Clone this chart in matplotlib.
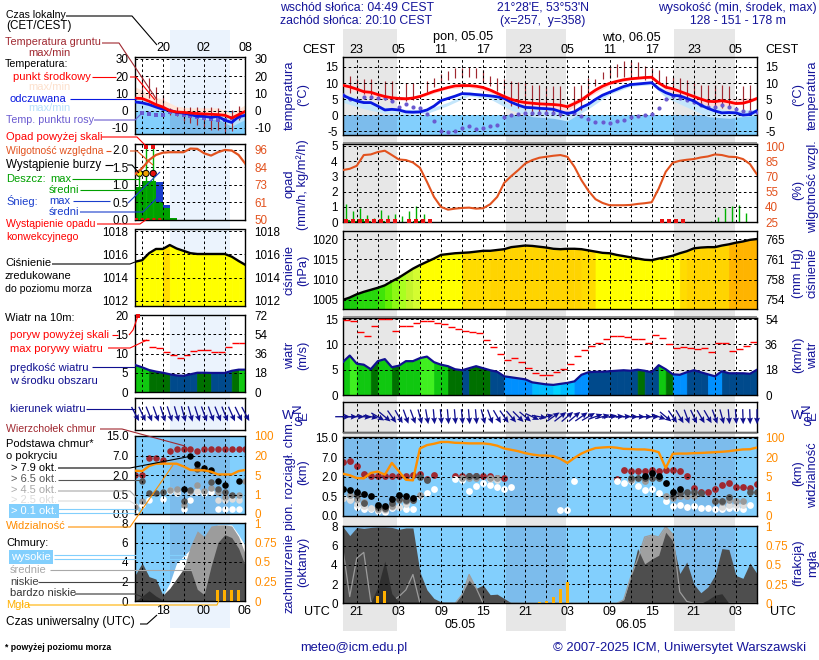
"""Meteogram (ICM style): small 'legend' panels on the left, 60 h forecast on the right."""
import numpy as np
import matplotlib
matplotlib.use("Agg")
import matplotlib.pyplot as plt
from matplotlib.colors import BoundaryNorm, ListedColormap

plt.rcParams["font.family"] = ["Liberation Sans", "DejaVu Sans"]
W, H = 820, 660
FS = 8.0
TICKFS = 8.4
HEADFS = 8.8
TITLEFS = 9.3
HOURFS = 9.0
NAVY = "#14149a"
BROWN = "#a02830"
ORANGE = "#ff8c00"
RH_COL = "#e2521e"
DAY_BLUE = "#82cffd"
NIGHT_BLUE = "#7cbcec"

# ---- forecast panels, hourly, hours from 00 UTC 05.05
hours = np.arange(-5, 55)
temp_mid = [9.3, 8.8, 8.1, 7.3, 7.1, 6.4, 5.8, 5.4, 5.2, 5.1, 5.3, 5.8, 6.6, 7.4, 8.0, 8.6, 9.1, 9.2, 9.2, 9.0,
            8.6, 7.8, 6.8, 5.8, 4.9, 4.3, 3.9, 3.7, 3.5, 3.4, 3.3, 3.1, 2.6, 3.6, 4.7, 6.3, 7.8, 9.0, 9.9, 10.5,
            11.0, 11.3, 11.5, 11.7, 11.8, 10.0, 8.7, 8.2, 7.4, 6.6, 5.8, 5.0, 4.3, 4.2, 4.5, 4.1, 3.6, 3.7, 4.3, 5.2]
temp_feel = [6.2, 5.2, 4.4, 3.9, 3.9, 2.8, 1.6, 1.8, 1.6, 1.0, 0.9, 1.0, 1.6, 2.8, 4.5, 5.2, 5.9, 6.7, 6.6, 6.4,
             6.2, 6.0, 5.7, 5.2, 4.0, 3.1, 2.4, 2.3, 2.1, 2.0, 1.8, 1.1, 0.5, 1.0, 2.4, 3.4, 4.9, 6.2, 7.1, 8.0,
             8.9, 9.5, 9.7, 9.9, 10.1, 8.2, 7.0, 6.2, 6.0, 5.2, 4.4, 3.1, 2.1, 1.3, 0.7, 0.8, 0.7, 0.0, 0.2, 1.4]
dew_point = [6.2, 5.0, 4.7, 5.6, 5.7, 5.4, 5.2, 4.4, 2.6, 3.4, 2.4, 2.1, 0.3, -1.9, -5.0, -5.3, -4.9, -4.0, -3.5, -4.2,
             -4.0, -3.5, -3.0, -0.6, -0.1, 0.3, 0.7, 0.7, 0.8, 0.8, 0.8, 0.4, 0.7, 0.5, -0.2, -1.1, -2.2, -2.3, -2.4, -1.7,
             -1.4, -0.7, -0.3, 0.0, 0.2, 2.3, 5.1, 5.9, 5.2, 4.7, 4.0, 3.1, 2.6, 2.6, 3.0, 2.6, 1.9, 1.4, 1.0, 0.9]
ground_t = [-4, -3, -2, -1, 1, 2, 4, 5, 7, 8, 9, 10, 11, 12, 13, 14, 15, 16, 17, 18, 19, 20, 21, 22, 23, 24, 25, 26,
            28, 29, 30, 31, 32, 33, 34, 35, 36, 37, 38, 39, 40, 41, 42, 43, 44, 45, 46, 47, 48, 49, 50, 52, 53]
ground_max = [12.2, 11.1, 11.1, 11.1, 10.6, 10.6, 9.9, 9.9, 10.6, 11.5, 12.8, 13.6, 14.6, 14.8, 14.9, 14.6, 13.9, 12.2,
              11.5, 11.3, 10.6, 10.4, 10.1, 9.4, 9.4, 9.0, 9.0, 9.1, 9.0, 9.4, 11.5, 11.1, 13.5, 15.4, 15.9, 17.0, 16.7,
              16.5, 15.4, 14.6, 13.9, 12.2, 11.8, 11.5, 10.9, 9.9, 9.4, 9.4, 9.4, 9.4, 9.1, 9.1, 9.4]
ground_min = [7.0, 7.2, 6.5, 6.3, 4.7, 4.7, 4.4, 4.7, 7.3, 8.9, 9.9, 10.9, 11.5, 11.8, 11.8, 11.5, 10.4, 9.1,
              7.6, 5.7, 2.8, 2.1, 1.6, 0.5, 0.5, 0.0, 0.0, -0.5, 0.5, 1.6, 5.7, 9.0, 11.1, 11.7, 12.0, 11.8, 11.8,
              11.5, 10.9, 10.9, 9.9, 8.3, 7.8, 5.7, 5.2, 4.2, 3.6, 3.1, 2.1, 2.1, 2.1, 1.6, 1.6]
band_t = [-5, -2, 1, 4, 7, 10, 13, 16, 19, 22, 25, 27, 30, 33, 36, 39, 41, 44, 47, 50, 54]
pink_hi = [9.6, 7.8, 6.2, 5.5, 7, 8.9, 9.5, 8.2, 5.5, 4.2, 3.8, 3.5, 7, 10.5, 11.8, 12.2, 9.2, 7, 5, 5, 5.6]
pink_lo = [8.6, 6.4, 4.8, 4.5, 6.1, 8.2, 8.7, 7, 3.2, 2.5, 2, 1.2, 5.7, 9.3, 11, 11.4, 7.8, 5, 3, 2.9, 4.6]
pale_hi = [6.8, 4.5, 2.4, 1.8, 1.7, 4, 7.2, 6.5, 4.6, 2.8, 2.2, 1, 3.8, 7.6, 9.9, 10.5, 7.7, 5.8, 3, 1.3, 1.8]
pale_lo = [4, 2, 0.5, 0.2, 0.5, 3, 6, 5, 1.5, -0.5, -1, -1.8, 2, 6.5, 9, 9.5, 5.5, 2.5, -0.5, -1, 0]

humidity = [76.7, 78, 81, 91.7, 92.3, 94.7, 96, 91.7, 87.3, 86.7, 84.3, 79, 65, 50, 40, 37.3, 38.3, 39, 39.3, 38.3,
            38.7, 42.7, 50, 64, 70.7, 76.7, 83.3, 86.7, 89, 90, 91, 91.7, 90, 80, 66.7, 56, 47.7, 44, 41.7, 41.7,
            41.7, 42, 43, 43.7, 44.7, 58.3, 75, 84, 86, 87, 87.7, 89.3, 90.3, 92.3, 91.7, 90, 89.7, 87.7, 82.7, 72.3]
rain_max_t = [-4.6, -3.5, -2.5, -1.5, -0.5, 0.5, 1.5, 2.5, 3.5, 4.5, 5.5, 6.6, 47.5, 48.5, 49.5, 50.5, 51.5, 52.5]
rain_max = [1.2, 0.7, 0.95, 0.45, 0.25, 0.8, 0.45, 0.55, 0.4, 0.75, 1.05, 0.5, 0.05, 0.33, 0.9, 1.05, 1.15, 0.6]
rain_mean_t = [-5, -4, -3, -2, 0, 5]
rain_mean = [0.15, 0.04, 0.2, 0.04, 0.06, 0.06]
conv_t = [-4.5, -3.5, -2.5, -1.5, -0.5, 0.5, 1.5, 2.5, 4.5, 5.5, 6.5, 7.5, 40.5, 41.5, 42.5, 43.5]

pressure = [1005, 1005.6, 1006.4, 1007, 1007.5, 1008, 1008.6, 1009.6, 1010.5, 1011.6, 1012.7, 1013.6, 1014.4, 1015.2,
            1016.1, 1016.3, 1016.5, 1016.6, 1016.7, 1016.9, 1017.1, 1017.1, 1017.3, 1017.5, 1018, 1018.2, 1018.4, 1018.3,
            1018.1, 1017.9, 1017.6, 1017.5, 1017.6, 1017.6, 1017.5, 1017.2, 1016.9, 1016.6, 1016.5, 1016.1, 1015.8, 1015.5,
            1015.2, 1014.9, 1014.8, 1015.2, 1015.5, 1015.9, 1016.5, 1017, 1017.7, 1017.9, 1018, 1018, 1018.4, 1018.7,
            1019.1, 1019.4, 1019.8, 1020]
pressure_levels = [1000, 1006, 1007, 1008.3, 1009.3, 1010.3, 1011.5, 1012.5, 1013.3, 1014, 1016.7, 1017.3, 1018.9, 1030]
pressure_colors = ["#12c40c", "#1ccc0c", "#28d80c", "#40e408", "#64f004", "#8cf814", "#aaff20", "#c4f42c", "#d4fc30",
                   "#ffff00", "#ffdc00", "#ffd400", "#ffb400"]

wind = [6.5, 7.8, 6.2, 6.0, 5.1, 6.7, 7.1, 5.5, 5.8, 6.7, 6.7, 7.3, 7.6, 6.5, 6.0, 5.7, 5.1, 4.9, 5.3, 5.7,
        5.3, 4.9, 4.6, 3.7, 3.5, 3.3, 3.1, 2.5, 2.3, 2.1, 2.0, 2.2, 2.4, 2.7, 4.0, 4.5, 4.6, 4.6, 4.7, 4.8,
        4.9, 4.8, 5.0, 4.8, 4.5, 5.9, 5.1, 4.1, 4.0, 4.5, 4.9, 4.5, 4.1, 3.7, 4.7, 4.3, 4.3, 4.3, 4.2, 5.0]
wind_levels = [0, 2.1, 2.6, 4.2, 4.97, 5.8, 7.2, 20]
wind_colors = ["#00d4ff", "#00bcff", "#0090ff", "#004a8c", "#007000", "#10c810", "#40f020"]
gust = [14.9, 14.7, 12.5, 11.7, 13.7, 15.1, 15.1, 12.7, 13.7, 13.7, 14.3, 14.7, 14.7, 14.3, 14.1, 13.5, 13.1, 12.7, 12.5, 12.3,
        10.9, 9.5, 8.1, 6.9, 7.3, 6.5, 5.3, 4.3, 3.9, 3.9, 4.6, 5.1, 6.1, 7.7, 8.9, 9.7, 10.3, 11.1, 11.6, 11.7,
        11.5, 11.1, 11.1, 10.3, 11.9, 11.3, 10, 9.3, 9.5, 9.3, 9.1, 9.3, 8.5, 10.3, 10.2, 8.7, 9.1, 9.7, 10.5]
wind_to_deg = [0, 0, 0, -5, -10, -30, -40, -55, -60, -70, -70, -75, -80, -85, -85, -85, -85, -85, -85, -85,
               -75, -70, -60, -55, -50, -45, -40, -25, -10, 15, 35, 38, 40, 40, 35, 30, 20, 15, 10, 5,
               3, 0, 0, 0, 0, -20, -40, -55, -60, -70, -65, -60, -60, -70, -75, -85, -86, -88, -88, -90]

# cloud panel values are in tick steps: 0, 1, 2, 3, 4 stand for 0, 0.5, 2, 7, 15 km (0, 1, 5, 20, 100 km visibility)
top_t = [-5, -4, -3, -2, -1, 0, 1, 2, 3, 4, 5, 6, 7, 8, 11, 12, 13, 14, 15, 16, 17, 18] + list(range(34, 55))
top_lev = [2.76, 2.8, 2.54, 2.15, 2.03, 2.03, 2.06, 2.06, 2.06, 2.06, 2.09, 2.15, 1.89, 2.09, 2.04, 2.06, 2.06, 2.06, 2.04,
           2.04, 1.96, 1.92, 1.89, 2.35, 2.32, 2.28, 2.3, 2.33, 2.32, 2.35, 2.37, 2.32, 2.03, 1.42, 1.25, 1.25, 1.39, 1.58,
           1.67, 1.49, 1.48, 1.41, 1.63]
oct79_t = [-5, -4, -3, -2, -1, 0, 1, 2, 3, 4, 5, 38, 39, 40, 41, 42, 43]
oct79_lev = [1.37, 1.34, 1.22, 1.13, 1.01, 0.57, 0.53, 0.86, 1.08, 1.01, 0.94, 2.03, 2.2, 2.03, 1.7, 1.24, 1.36]
oct65_t = [-3, -2, 0, 1, 2, 3, 4, 5, 6, 7, 13, 14, 36, 37, 38, 39, 40, 42, 43, 44, 45, 46, 48, 49, 50, 53, 54]
oct65_lev = [1.05, 0.65, 0.45, 0.43, 0.65, 0.86, 0.81, 0.81, 1.97, 1.85, 2.03, 2.03, 1.94, 1.96, 1.94, 1.94, 1.94, 1.0,
             1.17, 1.22, 1.22, 1.17, 0.77, 0.77, 0.98, 1.22, 1.22]
oct45_t = [-4, -3, -2, 0, 1, 2, 3, 4, 5, 6, 12, 13, 14, 16, 17, 36, 38, 41, 42, 43, 44, 45, 48, 49, 50, 51, 52]
oct45_lev = [1.05, 0.88, 0.69, 0.36, 0.34, 0.52, 0.84, 0.76, 0.82, 1.08, 1.94, 1.94, 1.94, 1.94, 1.92, 1.85, 1.77, 1.03,
             0.91, 1.0, 1.0, 1.0, 0.77, 0.74, 0.82, 0.77, 0.77]
oct25_t = [-5, -4, -3, -2, -1, 0, 1, 2, 3, 4, 16, 17, 49, 50, 51, 52]
oct25_lev = [0.94, 0.82, 0.62, 0.52, 0.43, 0.31, 0.29, 0.45, 0.45, 0.62, 1.89, 1.85, 0.48, 0.57, 0.57, 0.57]
oct01_t = [-5, -4, -3, -2, -1, 0, 1, 2, 3, 4, 5, 6, 7, 8, 11, 12, 13, 14, 15, 16, 17, 18, 19, 26, 27, 28] + list(range(34, 54))
oct01_lev = [0.91, 0.86, 0.45, 0.36, 0.36, 0.24, 0.22, 0.39, 0.45, 0.34, 0.34, 1.03, 1.17, 1.36, 1.87, 1.85, 1.3, 1.51, 1.7,
             1.6, 1.46, 1.36, 1.49, 0.31, 0.31, 1.79, 1.79, 1.68, 1.77, 1.53, 1.34, 1.36, 1.17, 0.76, 0.5, 0.57, 0.46, 0.53,
             0.41, 0.41, 0.34, 0.36, 0.39, 0.39, 0.38, 0.57]
visibility = [2.16, 2.08, 1.94, 1.92, 2.2, 2.27, 2.11, 2.71, 2.28, 1.85, 1.82, 3.45, 3.62, 3.69, 3.78, 3.78, 3.74, 3.73, 3.71, 3.71,
              3.71, 3.67, 3.59, 3.45, 3.38, 3.31, 3.21, 3.14, 3.09, 3.09, 3.06, 2.92, 2.71, 2.97, 3.19, 3.35, 3.47, 3.5, 3.52, 3.49,
              3.43, 3.42, 3.4, 3.4, 3.36, 3.26, 2.45, 3.18, 3.19, 3.19, 3.21, 3.22, 3.24, 3.26, 3.28, 3.31, 3.36, 3.4, 3.41, 3.5]

cover_low = [8, 7.05, 7.9, 7.8, 7.9, 7.95, 7.95, 7.9, 7.7, 7.85, 7.85, 3.25, 1.4, 0.5, 0.15, 0, 0, 1, 2.4, 1.55,
             1.9, 0.9, 0.95, 0.5, 0.05, 0, 0, 0, 0, 0, 0, 0, 0, 0, 0, 0, 0, 0, 0, 0.05,
             0.35, 2.7, 5.7, 4.1, 4.6, 5, 7.4, 6.5, 3.1, 4.3, 2, 1.1, 1.7, 2.9, 5.7, 5.6, 2.9, 2.6, 4.2, 3.1]
cover_mid = [5.8, 0.7, 4.7, 5.3, 0.2, 0, 0, 0.2, 0.7, 1.4, 3.0, 0, 0, 0, 0, 0, 0, 0.9, 3, 1.6,
             0, 0, 0, 0, 0, 0, 0, 0, 0, 0, 0, 0, 0, 0, 0, 0, 0, 0, 0, 0,
             0.35, 2.7, 4.6, 6.9, 7.1, 6.9, 8, 7.2, 1.2, 0.2, 0, 0, 0, 0, 0, 0, 0, 0, 0, 0]
cover_high_t = [34, 35, 36, 37, 38, 39, 40, 41, 42, 43, 44, 45]
cover_high = [0, 0.3, 2.4, 4.6, 5, 5.5, 6.5, 8, 6, 1.2, 0.1, 0]
cover_vlow_t = [-2, -1, 0, 1, 2, 3, 46, 47, 48, 49, 50]
cover_vlow = [0, 0.1, 1.7, 4.4, 1, 0.15, 0, 0.35, 0.85, 1, 0]
fog_t = [0, 1, 23, 24, 25, 26, 27]
fog = [0.09, 0.16, 0.02, 0.03, 0.08, 0.19, 0.28]

# ---- small panels, hours from 00 UTC 05.05
hours_l = np.arange(-10, 7)
temp_mid_l = [7.2, 7, 5.4, 3.5, 2.1, 0, -0.8, -1, -1.4, -1.7, -1.9, -2.1, -2.3, -2.7, -4.3, -2.3, -0.4]
temp_feel_l = [5, 4.5, 3.5, 2.1, 0.8, 0.2, -1, -1.4, -2.3, -3.3, -3.3, -3.9, -3.3, -5.6, -6.8, -3.5, -2.7]
dew_t_l = list(range(-9, 6))
dew_l = [-1.4, -1.7, -2.3, -2.7, -0.8, -1.7, -2.3, -2.9, -3.9, -4.3, -4.8, -5.2, -5.6, -4.3, -3.7]
ground_t_l = list(range(-9, 6))
ground_max_l = [20, 19, 13.8, 9.3, 1.6, 2.1, 1.6, 2.1, 1.9, 2.1, 2.1, 1.6, 0.6, 0.6, 2.9]
ground_min_l = [8.3, 7.4, 2.5, 0.6, -2.3, -3.3, -6.2, -7.2, -8.1, -10, -11, -11, -13, -12, -5.2]
band_t_l = [-10, -8, -6, -4, -2, 0, 2, 4, 6]
pink_hi_l = [13.8, 9.3, 6.4, 2.5, 1.6, 1.6, 1.6, -1.4, 3.5]
pink_lo_l = [7.2, 5.4, 2.1, -0.8, -1.4, -1.9, -2.3, -4.3, -0.4]
pale_lo_l = [0, 0, 0, -1, -3, -5, -5, -9, -5]
humidity_l = [80.2, 84, 89.4, 92.7, 94.2, 94.5, 94.5, 94.5, 96.9, 96.7, 93.8, 92.3, 94.5, 96, 95.6, 92.7, 86.8]
rain_t_l = [-10, -9, -8, -7, -6, -5]
rain_l = [0.95, 1.1, 1.1, 0.52, 0.33, 0.07]
snow_l = [0, 0, 0, 0.57, 0.1, 0]
storm_t_l = [-9.4, -8.45, -7.4]
storm_top_l = [1.33, 2.08, 2.08]
storm_colors = ["#ffe800", "#f0a000", "#e81010"]
over_t_l = [-8.45, -7.4]
pressure_l = [1015.37, 1015.5, 1016.1, 1016.46, 1016.46, 1016.8, 1016.5, 1016.3, 1016.1, 1016.03, 1016.03, 1016.03, 1016.03,
              1016.03, 1015.8, 1015.43, 1015.09]
wind_l = [7, 6.4, 5.7, 5.3, 5, 4.6, 4.3, 4.2, 4.6, 5, 5, 4.95, 4.95, 4.95, 5.5, 5.8, 5.8]
gust_t_l = list(range(-9, 6))
gust_l = [13.45, 11.7, 11.4, 10.5, 9.6, 8.8, 9.7, 10.7, 10.8, 10.8, 10.5, 10.5, 11.6, 12.7, 12.8]
wind_to_deg_l = [-62, -65, -68, -70, -72, -72, -74, -75, -74, -72, -70, -70, -68, -68, -66, -64, -62]
top_lev_l = [2, 2, 2.85, 2.85, 2.77, 3.23, 3.32, 3.33, 3.33, 3.23, 3.33, 3.33, 3.33, 3.33, 3.33, 3.33, 3.33]
oct79_t_l = [-3, -2, -1, 0, 1, 2, 3, 5]
oct79_lev_l = [1.26, 2.97, 2.56, 2.38, 2.26, 1.69, 1.47, 1.68]
oct65_t_l = [-9, -8, -7, -6, -3, -2, -1, 1, 2, 3, 4]
oct65_lev_l = [1.69, 1.09, 1.09, 1.11, 0.67, 1.25, 2.29, 1.66, 1.26, 1.11, 0.97]
oct45_t_l = [-10, -9, -5, -4, -3, -2, -1, 0, 1, 2, 3, 5, 6]
oct45_lev_l = [0.38, 0.68, 1.23, 1.26, 0.46, 1.2, 1.49, 1.2, 1.32, 1.15, 0.89, 0.97, 1.69]
oct25_t_l = [-10, -5, -4, -2, -1, 2, 3, 4, 5]
oct25_lev_l = [0.41, 1.22, 1.15, 1.15, 1.18, 0.7, 0.72, 0.75, 0.72]
oct01_t_l = [-10, -9, -8, -6, -5, -4, -3, -2, -1, 0, 1, 2, 3, 4, 5]
oct01_lev_l = [0.12, 0.44, 0.72, 0.75, 1.2, 1.09, 0.26, 0.7, 1.15, 1.09, 1.15, 0.26, 0.24, 0.24, 0.24]
visibility_l = [2.22, 2.2, 2.46, 2.58, 2.58, 2.58, 2.58, 2.44, 2.26, 2.24, 2.24, 2.17, 2.03, 2.03, 2.03, 2.2, 2.26]
cover_low_l = [2.7, 3.9, 2.5, 2.25, 0.6, 1.3, 2.3, 3.3, 3.3, 1.2, 0.65, 3.55, 6, 6.8, 6.5, 5.4, 3.55]
cover_mid_t_l = [-4, -3, -2, -1, 0, 1, 2, 3, 4, 5, 6]
cover_mid_l = [0, 3.3, 5.6, 7.2, 6.6, 7.7, 7.8, 7.8, 7.7, 6.6, 4.75]
cover_high_t_l = [-6, -5, -4, -3, -2, -1, 0, 1, 2, 3, 4, 5, 6]
cover_high_l = [0.5, 1.85, 3.9, 4.6, 5.3, 5.9, 5.9, 7.5, 7.8, 7.8, 7.8, 6.8, 5.6]
cover_vlow_t_l = [-10, -9, -8, -7, -6]
cover_vlow_l = [0, 0.5, 1.05, 0.5, 0.1]
fog_t_l = [2, 3, 4, 5]
fog_l = [0.145, 0.145, 0.145, 0.145]

nights = [(-5, 2.8), (18.2, 26.8), (42.2, 50.8)]
night_l = (-5, 3.8)
XLIM_R = (-5, 54)
XLIM_L = (-10, 6)
DOT_COLORS = [BROWN, "white", "#dcdcdc", "#9a9a9a", "#555555", "black"]

fig = plt.figure(figsize=(W / 100, H / 100), dpi=100, facecolor="white")


def px_axes(x0, y0, x1, y1, **kw):
    return fig.add_axes([x0 / W, 1 - y1 / H, (x1 - x0) / W, (y1 - y0) / H], **kw)


def panel(box, xlim, ylim, yticks, ylabels, right, pad_l, pad_r, col_r="black"):
    """Bordered panel with dashed grid; right = (lim, ticks, labels) of the twin axis."""
    ax = px_axes(*box)
    ax.set_facecolor("none")
    ax.set_xlim(*xlim)
    ax.set_ylim(*ylim)
    first = int(np.ceil(xlim[0] / 3) * 3)
    ax.set_xticks(np.arange(first, xlim[1], 3))
    ax.set_xticklabels([])
    ax.set_yticks(yticks)
    ax.set_yticklabels(ylabels, fontsize=TICKFS)
    ax.tick_params(length=0, pad=pad_l)
    ax.grid(True, color="black", linestyle=(0, (2.6, 2.6)), linewidth=0.72)
    ax.set_axisbelow(False)
    for s in ax.spines.values():
        s.set_linewidth(1.0)
    tw = None
    if right is not None:
        tw = ax.twinx()
        tw.set_ylim(*right[0])
        tw.set_yticks(right[1])
        tw.set_yticklabels(right[2], fontsize=TICKFS, color=col_r)
        tw.tick_params(length=0, pad=pad_r)
        for s in tw.spines.values():
            s.set_visible(False)
    return ax, tw


def columns(ax, t, v, colors, base):
    # a hairline in the same colour closes the seams between neighbouring columns
    for i in range(len(t) - 1):
        ax.fill_between(t[i:i + 2], v[i:i + 2], base, facecolor=colors[i], edgecolor=colors[i], linewidth=0.5, zorder=1)


def level_colors(values, levels, colors):
    norm = BoundaryNorm(levels, len(colors))
    cmap = ListedColormap(colors)
    return [cmap(norm(v)) for v in values]


def sky(ax, ylim, spans, below=None):
    top = ylim[1] if below is None else below
    ax.fill_between(ax.get_xlim(), ylim[0], top, color=DAY_BLUE, linewidth=0, zorder=0.5)
    for a, b in spans:
        ax.fill_between([a, b], ylim[0], top, color=NIGHT_BLUE, linewidth=0, zorder=0.6)


def cloud_dots(ax, series, size=24):
    for (t, lev), col in zip(series, DOT_COLORS):
        ax.scatter(t, lev, s=size, color=col, linewidths=0, zorder=1.5)


def wind_arrows(ax, t, deg, length):
    rad = np.deg2rad(deg)
    ax.quiver(t, np.full(len(t), 0.5), length * np.cos(rad), length * np.sin(rad), angles="uv", scale_units="dots",
              scale=1, units="dots", width=1.3, headwidth=4.6, headlength=5, headaxislength=4.4, pivot="mid", color="#101090",
              clip_on=False, zorder=3)


# ---- day/night bands behind the panels
band_r = px_axes(342.7, 29, 757, 631)
band_r.set_xlim(*XLIM_R)
band_r.axis("off")
for a, b in nights:
    band_r.axvspan(a, b, color="#e7e7e7", linewidth=0)
band_l = px_axes(135.3, 30, 245.5, 628)
band_l.set_xlim(*XLIM_L)
band_l.axis("off")
band_l.axvspan(night_l[0], night_l[1], color="#ebf3fd", linewidth=0)

# ==== right panels
RX0, RX1 = 342.7, 757
# temperature
ylim = (-6.2, 18.1)
ax, _ = panel((RX0, 57, RX1, 135), XLIM_R, ylim, [-5, 0, 5, 10, 15], ["-5", "0", "5", "10", "15"], None, 3.6, 0)
ax2 = ax.secondary_yaxis("right")
ax2.set_yticks([-5, 0, 5, 10, 15], ["-5", "0", "5", "10", "15"], fontsize=TICKFS)
ax2.tick_params(length=0, pad=5.8)
ax2.spines["right"].set_visible(False)
sky(ax, ylim, nights, below=0)
ax.fill_between(band_t, pale_lo, pale_hi, color="#c4e6fb", linewidth=0, zorder=0.8)
ax.fill_between(band_t, pink_lo, pink_hi, color="#ffd9d9", linewidth=0, zorder=0.8)
ax.vlines(ground_t, ground_min, ground_max, color=BROWN, linewidth=0.85, zorder=1)
ax.scatter(hours, dew_point, s=9, color="#6a5ad0", linewidths=0, zorder=3)
ax.plot(hours, temp_feel, color="#0818e0", linewidth=2.0, zorder=3)
ax.plot(hours, temp_mid, color="#ff0000", linewidth=2.0, zorder=3)

# rain + humidity
ax, tw = panel((RX0, 144, RX1, 222), XLIM_R, (0, 5.13), [0, 1, 2, 3, 4, 5], ["0", "1", "2", "3", "4", "5"],
               ((25, 102.7), [25, 40, 55, 70, 85, 100], ["25", "40", "55", "70", "85", "100"]), 3.6, 5.8, RH_COL)
ax.vlines(rain_max_t, 0, rain_max, color="#00b000", linewidth=1.0, zorder=1)
ax.bar(rain_mean_t, rain_mean, width=1, align="edge", color="#00a000", zorder=1)
ax.scatter(conv_t, np.full(len(conv_t), 0.04), marker="s", s=7, color="#e81010", linewidths=0, zorder=3)
tw.plot(hours, humidity, color=RH_COL, linewidth=1.5)

# pressure
ylim = (1002.9, 1022.1)
ax, tw = panel((RX0, 230.5, RX1, 308.5), XLIM_R, ylim, [1005, 1010, 1015, 1020], ["1005", "1010", "1015", "1020"],
               (ylim, [1005, 1010, 1015, 1020], ["754", "758", "761", "765"]), 3.6, 5.8)
columns(ax, hours, pressure, level_colors(pressure[1:], pressure_levels, pressure_colors), ylim[0])
ax.plot(hours, pressure, color="black", linewidth=1.7, zorder=3)

# wind
ax, tw = panel((RX0, 317.7, RX1, 395), XLIM_R, (0, 15.3), [0, 5, 10, 15], ["0", "5", "10", "15"],
               ((0, 55.08), [0, 18, 36, 54], ["0", "18", "36", "54"]), 3.6, 5.8)
columns(ax, hours, wind, level_colors(wind[:-1], wind_levels, wind_colors), 0)
ax.hlines(gust, hours[:-1], hours[1:], color="#ff0000", linewidth=1.0, zorder=3)
ax.plot(hours, wind, color="#101090", linewidth=1.6, zorder=3)

# wind direction
ax, _ = panel((RX0, 401.7, RX1, 431.7), XLIM_R, (0, 1), [], [], None, 0, 0)
wind_arrows(ax, hours, wind_to_deg, 15)

# cloud base + visibility
ylim = (0, 4.02)
ticks = [0, 1, 2, 3, 4]
ax, tw = panel((RX0, 437.3, RX1, 516), XLIM_R, ylim, ticks, ["0.0", "0.5", "2.0", "7.0", "15.0"],
               (ylim, ticks, ["0", "1", "5", "20", "100"]), 3.6, 5.8, ORANGE)
sky(ax, ylim, nights)
cloud_dots(ax, [(top_t, top_lev), (oct01_t, oct01_lev), (oct25_t, oct25_lev), (oct45_t, oct45_lev),
                (oct65_t, oct65_lev), (oct79_t, oct79_lev)])
tw.plot(hours, visibility, color="#ff9000", linewidth=1.7)

# cloud cover
ylim = (0, 8.08)
ax, tw = panel((RX0, 525.7, RX1, 603.3), XLIM_R, ylim, [0, 2, 4, 6, 8], ["0", "2", "4", "6", "8"],
               ((0, 1.01), [0, 0.25, 0.5, 0.75, 1], ["0", "0.25", "0.5", "0.75", "1"]), 3.6, 5.8, ORANGE)
sky(ax, ylim, nights)
ax.fill_between(cover_high_t, cover_high, color="white", linewidth=0, zorder=0.9)
ax.fill_between(hours, cover_mid, color="#a0a0a0", linewidth=0, zorder=1)
ax.fill_between(hours, cover_low, color="#4e4e4e", linewidth=0, zorder=1.1)
ax.plot(hours, cover_mid, color="#9c9c9c", linewidth=0.9, zorder=1.2)
ax.fill_between(cover_vlow_t, cover_vlow, color="#303030", linewidth=0, zorder=1.3)
tw.bar(fog_t, fog, width=0.45, color="#ffb000", zorder=3)

# ==== small panels
LX0, LX1 = 135.3, 245.5
# temperature
ylim = (-13.5, 31)
ticks = [-10, 0, 10, 20, 30]
labels = ["-10", "0", "10", "20", "30"]
ax, tw = panel((LX0, 57, LX1, 134), XLIM_L, ylim, ticks, labels, (ylim, ticks, labels), 5, 6.5)
sky(ax, ylim, [night_l], below=0)
ax.fill_between(band_t_l, pink_lo_l, pink_hi_l, color="#ffe6d8", linewidth=0, zorder=0.8)
ax.fill_between(band_t_l, pale_lo_l, pink_lo_l, color="#b6e0fb", linewidth=0, zorder=0.8)
ax.vlines(ground_t_l, ground_min_l, ground_max_l, color=BROWN, linewidth=0.85, zorder=1)
ax.scatter(dew_t_l, dew_l, s=9, marker="s", color="#6a5ad0", linewidths=0, zorder=3)
ax.plot(hours_l, temp_feel_l, color="#0818e0", linewidth=2.0, zorder=3)
ax.plot(hours_l, temp_mid_l, color="#ff0000", linewidth=2.0, zorder=3)

# rain + humidity
ax, tw = panel((LX0, 144, LX1, 220), XLIM_L, (0, 2.17), [0, 0.5, 1, 1.5, 2], ["0.0", "0.5", "1.0", "1.5", "2.0"],
               ((50, 99.9), [50, 61.5, 73, 84.5, 96], ["50", "61", "73", "84", "96"]), 5, 6.5, RH_COL)
ax.bar(rain_t_l, rain_l, width=1, align="edge", color="#00a000", zorder=1)
ax.bar(rain_t_l, snow_l, width=1, align="edge", bottom=rain_l, color="#1a3ecc", zorder=1)
ax.vlines(storm_t_l, 0, storm_top_l, color="#00b000", linewidth=1.0, zorder=3)
ax.scatter(storm_t_l, [1.33, 1.33, 1.33], s=20, c=storm_colors, edgecolors="black", linewidths=0.7, zorder=4)
ax.scatter(over_t_l, [2.08, 2.08], marker="s", s=8, color="#e81010", linewidths=0, zorder=4)
ax.hlines(0.02, -10, -6, color="#e81010", linewidth=1.4, linestyle=(0, (1.5, 1.5)), zorder=4)
tw.plot(hours_l, humidity_l, color=RH_COL, linewidth=1.6)

# pressure
ylim = (1011.57, 1018.13)
ticks = [1012, 1014, 1016, 1018]
labels = ["1012", "1014", "1016", "1018"]
ax, tw = panel((LX0, 229.5, LX1, 306), XLIM_L, ylim, ticks, labels, (ylim, ticks, labels), 5, 6.5)
columns(ax, hours_l, pressure_l, level_colors(pressure_l[1:], pressure_levels, pressure_colors), ylim[0])
ax.plot(hours_l, pressure_l, color="black", linewidth=1.7, zorder=3)

# wind
ax, tw = panel((LX0, 315, LX1, 392), XLIM_L, (0, 20), [0, 5, 10, 15, 20], ["0", "5", "10", "15", "20"],
               ((0, 72), [0, 18, 36, 54, 72], ["0", "18", "36", "54", "72"]), 5, 6.5)
columns(ax, hours_l, wind_l, level_colors(wind_l[:-1], wind_levels, wind_colors), 0)
ax.hlines(gust_l, gust_t_l, np.array(gust_t_l) + 1, color="#ff0000", linewidth=1.0, zorder=3)
ax.scatter([-9.6], [19.8], marker="s", s=7, color="#e81010", linewidths=0, zorder=4, clip_on=False)
ax.plot(hours_l, wind_l, color="#101090", linewidth=1.6, zorder=3)

# wind direction
ax, _ = panel((LX0, 398, LX1, 430), XLIM_L, (0, 1), [], [], None, 0, 0)
wind_arrows(ax, hours_l, wind_to_deg_l, 16)

# cloud base + visibility
ylim = (0, 4)
ticks = [0, 1, 2, 3, 4]
ax, tw = panel((LX0, 436, LX1, 514), XLIM_L, ylim, ticks, ["0.0", "0.5", "2.0", "7.0", "15.0"],
               (ylim, ticks, ["0", "1", "5", "20", "100"]), 5, 6.5, ORANGE)
sky(ax, ylim, [night_l])
cloud_dots(ax, [(hours_l, top_lev_l), (oct01_t_l, oct01_lev_l), (oct25_t_l, oct25_lev_l), (oct45_t_l, oct45_lev_l),
                (oct65_t_l, oct65_lev_l), (oct79_t_l, oct79_lev_l)], size=22)
tw.plot(hours_l, visibility_l, color="#ff9000", linewidth=1.7)

# cloud cover
ylim = (0, 8)
ax, tw = panel((LX0, 523, LX1, 601), XLIM_L, ylim, [0, 2, 4, 6, 8], ["0", "2", "4", "6", "8"],
               ((0, 1), [0, 0.25, 0.5, 0.75, 1], ["0", "0.25", "0.5", "0.75", "1"]), 5, 6.5, ORANGE)
sky(ax, ylim, [night_l])
ax.fill_between(cover_high_t_l, cover_high_l, color="white", linewidth=0, zorder=0.9)
ax.fill_between(cover_mid_t_l, cover_mid_l, color="#9c9c9c", linewidth=0, zorder=1)
ax.fill_between(hours_l, cover_low_l, color="#505050", linewidth=0, zorder=1.1)
ax.fill_between(cover_vlow_t_l, cover_vlow_l, color="#303030", linewidth=0, zorder=1.3)
tw.bar(fog_t_l, fog_l, width=0.45, color="#ffb000", zorder=3)

# ==== texts and leader lines, in image pixels
ov = px_axes(0, 0, W, H)
ov.set_xlim(0, W)
ov.set_ylim(H, 0)
ov.axis("off")
ov.set_zorder(20)


def tx(x, y, s, color="black", ha="left", fs=FS, rot=0, **kw):
    ov.text(x, y, s, color=color, ha=ha, va="center", fontsize=fs, rotation=rot, **kw)


def lead(color, *pts, lw=0.8):
    xs, ys = zip(*pts)
    ov.plot(xs, ys, color=color, linewidth=lw, solid_capstyle="butt")


def rx(t):
    return RX0 + (t + 5) * (RX1 - RX0) / 59


# left legend
tx(6, 15, "Czas lokalny", fs=7.6)
tx(6, 26, "(CET/CEST)", fs=8.4)
lead("black", (66, 16), (132, 16), (157, 45))
tx(5, 42, "Temperatura gruntu", BROWN, fs=7.8)
tx(28, 53, "max/min", BROWN)
lead(BROWN, (102, 43), (119, 43), (157, 100))
tx(5, 64, "Temperatura:", fs=7.7)
tx(13, 77, "punkt środkowy", "#ff0000")
lead("#ff0000", (92, 77), (116, 77))
lead("#ff0000", (130, 77), (136, 77), (155, 100))
tx(28, 87, "max/min", "#fde0cc")
tx(10, 99, "odczuwana", "#0818e0")
lead("#0818e0", (70, 99), (136, 99))
tx(28, 108, "max/min", "#b6e0fb")
tx(6, 120, "Temp. punktu rosy", "#6a5ad0", fs=7.7)
lead("#6a5ad0", (94, 120), (135, 120), (142, 113))
tx(6, 137, "Opad powyżej skali", "#ff0000")
lead("#ff0000", (102, 137), (137, 137), (146, 146))
tx(6, 151, "Wilgotność względna", RH_COL, fs=7.5)
lead(RH_COL, (106, 151), (111, 151))
lead(RH_COL, (130, 151), (137, 151), (153, 165))
tx(6, 165, "Wystąpienie burzy", fs=8.4)
lead("black", (105, 165), (113, 165))
lead("black", (127, 165), (132, 165), (139, 173))
tx(6, 179, "Deszcz:", "#00a000")
tx(50, 179, "max", "#00a000")
lead("#00a000", (72, 179), (139, 179), (139, 175))
tx(49, 190, "średni", "#00a000")
lead("#00a000", (80, 190), (140, 190))
tx(6, 201, "Śnieg:", "#1a3ecc")
tx(49, 201, "max", "#1a3ecc")
lead("#1a3ecc", (73, 201), (110, 201))
lead("#1a3ecc", (128, 203), (160, 172))
tx(49, 212, "średni", "#1a3ecc")
lead("#1a3ecc", (80, 212), (143, 212), (162, 193))
tx(6, 224, "Wystąpienie opadu", "#ff0000", fs=7.6)
lead("#ff0000", (97, 224), (140, 224), (147, 219))
tx(6, 237, "konwekcyjnego", "#ff0000", fs=7.6)
tx(5, 263, "Ciśnienie")
lead("black", (52, 264), (130, 264), (135, 262))
tx(5, 276, "zredukowane")
tx(5, 289, "do poziomu morza", fs=7.6)
tx(5, 318, "Wiatr na 10m:")
tx(10, 335, "poryw powyżej skali", "#ff0000")
lead("#ff0000", (112, 335), (118, 335))
lead("#ff0000", (129, 335), (133, 330), (138, 316))
tx(10, 349, "max porywy wiatru", "#ff0000")
lead("#ff0000", (108, 348), (130, 348), (147, 340))
tx(10, 368, "prędkość wiatru", "#101090")
lead("#101090", (92, 367), (135, 367))
tx(10, 381, "w środku obszaru", "#101090")
tx(10, 409, "kierunek wiatru", "#101090")
lead("#101090", (86, 409), (135, 409))
tx(6, 429, "Wierzchołek chmur", BROWN, fs=7.6)
lead(BROWN, (100, 429), (122, 429), (185, 446))
tx(6, 444, "Podstawa chmur*")
tx(6, 456, "o pokryciu")
tx(11, 468, "> 7.9 okt.")
lead("black", (58, 468), (130, 468), (192, 456))
tx(11, 479, "> 6.5 okt.", "#555555")
lead("#555555", (58, 480), (143, 480))
tx(11, 490, "> 4.5 okt.", "#a8a8a8")
lead("#a8a8a8", (58, 491), (130, 491), (136, 497))
tx(11, 500, "> 2.5 okt.", "#dcdcdc")
lead("#dcdcdc", (58, 501), (130, 501), (136, 505))
tx(11, 511, "> 0.1 okt.", "white", bbox=dict(facecolor=DAY_BLUE, edgecolor="none", pad=1.5))
lead(DAY_BLUE, (57, 509), (135, 509))
lead(DAY_BLUE, (57, 513), (135, 513))
tx(6, 526, "Widzialność", ORANGE)
lead("#ff9000", (68, 527), (130, 527), (173, 465))
tx(6, 543, "Chmury:")
tx(11, 557, "wysokie", "white", bbox=dict(facecolor=DAY_BLUE, edgecolor="none", pad=1.5))
lead(DAY_BLUE, (54, 555), (186, 555))
lead(DAY_BLUE, (54, 559), (186, 559))
tx(10, 570, "średnie", "#a8a8a8")
lead("#a8a8a8", (50, 570), (192, 570))
tx(10, 582, "niskie", "#444444")
lead("#444444", (38, 582), (135, 582))
tx(10, 593, "bardzo niskie", "#333333")
lead("#333333", (75, 594), (135, 594), (150, 600))
tx(6, 605, "Mgła", "#ffb000")
lead("#ffb000", (28, 605), (217, 605), (219, 600))
tx(6, 622, "Czas uniwersalny (UTC)", fs=8.6)
lead("black", (140, 624), (147, 624), (157, 615))
tx(5, 648, "* powyżej poziomu morza", fs=6.2, fontweight="bold")
for x, top, bottom in [(163, "20", "18"), (204, "02", "00"), (245, "08", "06")]:
    tx(x, 48, top, ha="center", fs=HOURFS)
    tx(x, 611, bottom, ha="center", fs=HOURFS)

# header
tx(280, 8, "wschód słońca: 04:49 CEST", NAVY, fs=HEADFS)
tx(280, 21, "zachód słońca: 20:10 CEST", NAVY, fs=HEADFS)
tx(543, 8, "21°28'E, 53°53'N", NAVY, ha="center", fs=HEADFS)
tx(543, 21, "(x=257,  y=358)", NAVY, ha="center", fs=HEADFS)
tx(817, 8, "wysokość (min, środek, max)", NAVY, ha="right", fs=HEADFS)
tx(738, 21, "128 - 151 - 178 m", NAVY, ha="center", fs=HEADFS)
tx(463, 37, "pon, 05.05", ha="center", fs=HOURFS + 0.2)
tx(631, 37, "wto, 06.05", ha="center", fs=HOURFS + 0.2)

# hour rows
tx(336, 50, "CEST", ha="right", fs=HOURFS)
tx(765, 50, "CEST", fs=HOURFS)
tx(330, 612, "UTC", ha="right", fs=HOURFS)
tx(770, 612, "UTC", fs=HOURFS)
for t in range(-3, 54, 6):
    tx(rx(t), 50, f"{(t + 2) % 24:02d}", ha="center", fs=HOURFS)
    tx(rx(t), 612, f"{t % 24:02d}", ha="center", fs=HOURFS)
tx(460, 625, "05.05", ha="center", fs=HOURFS)
tx(631, 625, "06.05", ha="center", fs=HOURFS)

# axis titles
for x, y, s in [(290, 95, "temperatura"), (303, 95, "(°C)"), (290, 184, "opad"), (303, 185, "(mm/h, kg/m²/h)"),
                (290, 270, "ciśnienie"), (303, 270, "(hPa)"), (290, 355, "wiatr"), (303, 355, "(m/s)"),
                (290, 475, "pion. rozciągł. chm."), (303, 472, "(km)"), (290, 573, "zachmurzenie"), (303, 562, "(oktanty)"),
                (813, 95, "temperatura"), (798, 95, "(°C)"), (813, 187, "wilgotność wzgl."), (798, 190, "(%)"),
                (813, 273, "ciśnienie"), (798, 273, "(mm Hg)"), (813, 355, "wiatr"), (798, 355, "(km/h)"),
                (813, 475, "widzialność"), (798, 473, "(km)"), (813, 563, "mgła"), (798, 563, "(frakcja)")]:
    ov.text(x, y, s, color=NAVY, rotation=90, ha="center", va="center", fontsize=TITLEFS)

# compass marks
for xw, xn, xe in [(288, 298, 304), (797, 807, 813)]:
    tx(xw, 416, "W", NAVY, ha="center", fs=FS + 1.5)
    tx(xn, 408, "N", NAVY, ha="center", fs=FS + 1.5, rot=90)
    tx(xe, 416, "E", NAVY, ha="center", fs=FS + 1.5, rot=90)
    tx(xn, 423, "S", NAVY, ha="center", fs=FS + 1.5)

# grey edges above/below some of the right panels
for y in [143, 316.7, 432.6]:
    lead("#808080", (RX0, y), (RX1, y), lw=1.2)

# footer
tx(300, 648, "meteo@icm.edu.pl", NAVY, fs=9.3)
tx(553, 648, "© 2007-2025 ICM, Uniwersytet Warszawski", NAVY, fs=9.45)

fig.savefig("out.png", dpi=100)
